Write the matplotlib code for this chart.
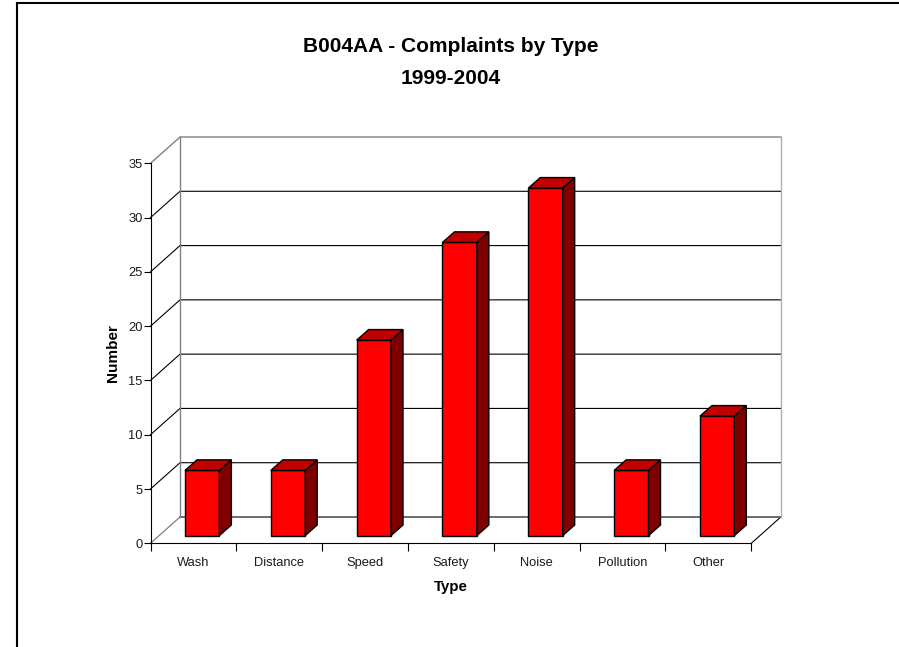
import numpy as np
import matplotlib
matplotlib.use('Agg')
import matplotlib.pyplot as plt
from matplotlib.lines import Line2D

plt.rcParams['font.family'] = ['Liberation Sans', 'DejaVu Sans']

types = ['Wash', 'Distance', 'Speed', 'Safety', 'Noise', 'Pollution', 'Other']
complaints = [6, 6, 18, 27, 32, 6, 11]
y_ticks = [0, 5, 10, 15, 20, 25, 30, 35]

W, H = 899, 647
fig = plt.figure(figsize=(W/100, H/100), dpi=100, facecolor='white')

# front plane of the fake 3d box, in pixels
left, right, bottom, top = 150.5, 751.3, 543.3, 163.3
ax = fig.add_axes([left/W, 1-bottom/H, (right-left)/W, (bottom-top)/H])
ax.set_xlim(0, len(types))
ax.set_ylim(0, 35)
ax.patch.set_alpha(0)

px_x = (right-left)/len(types)
px_y = (bottom-top)/35

# depth of the box and of the bars, converted to data units
box_dx, box_dy = 29.5/px_x, 26.3/px_y
bar_dx, bar_dy = 12.0/px_x, 10.6/px_y
off_dx, off_dy = 8.75/px_x, 7.7/px_y
bar_w = 34.4/px_x

LW = 0.8
n = len(types)

# floor
ax.plot([0, box_dx], [0, box_dy], color='#707070', lw=LW, clip_on=False, zorder=1)
ax.plot([n, n+box_dx], [0, box_dy], color='black', lw=LW, clip_on=False, zorder=1)
ax.plot([box_dx, n+box_dx], [box_dy, box_dy], color='#606060', lw=1.3, clip_on=False, zorder=1)

# gridlines on side and back wall
for v in y_ticks[1:-1]:
    ax.plot([0, box_dx, n+box_dx], [v, v+box_dy, v+box_dy], color='black', lw=LW,
            clip_on=False, zorder=1)

# wall edges
ax.plot([0, box_dx, n+box_dx], [35, 35+box_dy, 35+box_dy], color='#808080', lw=1.0,
        clip_on=False, zorder=1)
ax.plot([box_dx, box_dx], [box_dy, 35+box_dy], color='#808080', lw=1.0, clip_on=False, zorder=1)
ax.plot([n+box_dx, n+box_dx], [box_dy, 35+box_dy], color='#b0b0b0', lw=1.0, clip_on=False, zorder=1)

# bars
for i, val in enumerate(complaints):
    x0 = i + 0.5 - bar_w/2 + off_dx
    x1 = x0 + bar_w
    y0 = off_dy
    y1 = val + off_dy
    ax.fill([x0, x1, x1, x0], [y0, y0, y1, y1], facecolor='#ff0000', edgecolor='black',
            lw=1.0, clip_on=False, zorder=3)
    ax.fill([x1, x1+bar_dx, x1+bar_dx, x1], [y0, y0+bar_dy, y1+bar_dy, y1],
            facecolor='#800000', edgecolor='black', lw=1.0, clip_on=False, zorder=3)
    ax.fill([x0, x1, x1+bar_dx, x0+bar_dx], [y1, y1, y1+bar_dy, y1+bar_dy],
            facecolor='#c00000', edgecolor='black', lw=1.0, clip_on=False, zorder=3)

# axes
for s in ['top', 'right']:
    ax.spines[s].set_visible(False)
for s in ['left', 'bottom']:
    ax.spines[s].set_linewidth(LW)
    ax.spines[s].set_zorder(4)

ax.set_yticks(y_ticks)
ax.tick_params(axis='y', length=5, width=LW, labelsize=9.3, pad=0.5, labelcolor='#1a1a1a')
ax.set_xticks(np.arange(n+1))
ax.set_xticklabels([])
ax.set_xticks(np.arange(n)+0.5, labels=types, minor=True)
ax.tick_params(axis='x', which='major', length=5.5, width=LW)
ax.tick_params(axis='x', which='minor', length=0, labelsize=9.3, pad=10, labelcolor='#1a1a1a')

# titles
fig.text(451/W, 1-46/H, 'B004AA - Complaints by Type', ha='center', va='center',
         fontsize=15, fontweight='bold')
fig.text(451/W, 1-78/H, '1999-2004', ha='center', va='center', fontsize=15, fontweight='bold')
fig.text(451/W, 1-587/H, 'Type', ha='center', va='center', fontsize=10.8, fontweight='bold')
fig.text(113/W, 1-353/H, 'Number', ha='center', va='center', rotation=90, fontsize=11,
         fontweight='bold')

# page border, only top and left
fig.add_artist(Line2D([17/W, 17/W], [0, 1-3/H], color='black', lw=1.5))
fig.add_artist(Line2D([17/W, 1], [1-3/H, 1-3/H], color='black', lw=1.5))

fig.savefig('out.png', dpi=100)
